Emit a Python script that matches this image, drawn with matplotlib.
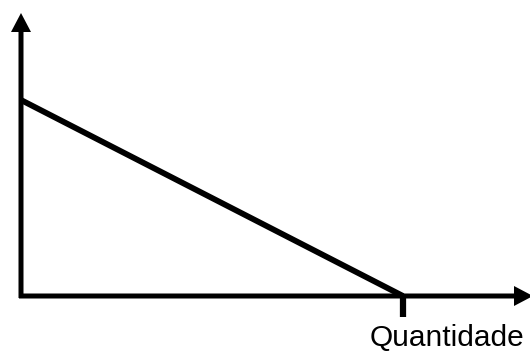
import matplotlib
matplotlib.use('Agg')
import matplotlib.pyplot as plt

# demand line: price intercept and quantity intercept (axis units = pixels from origin)
quantity = [0, 382]
price = [196, 0]
x_label = 'Quantidade'

fig = plt.figure(figsize=(5.30, 3.51), dpi=100)
ax = fig.add_axes([0, 0, 1, 1])
ax.set_xlim(-21, 509)
ax.set_ylim(-55, 296)
ax.axis('off')

# axes arrows
ax.arrow(0, -2, 0, 285, width=5, head_width=20, head_length=19,
         length_includes_head=True, color='black', lw=0)
ax.arrow(-2, 0, 514, 0, width=5, head_width=20, head_length=19,
         length_includes_head=True, color='black', lw=0)

# demand line
ax.plot(quantity, price, color='black', lw=4.2, solid_capstyle='butt')

# tick at the quantity intercept
ax.plot([quantity[1], quantity[1]], [0, -21], color='black', lw=4.5,
        solid_capstyle='butt')

ax.text(349, -50, x_label, fontsize=21.5, family='Liberation Sans',
        va='baseline', ha='left')

fig.savefig('out.png', dpi=100)
